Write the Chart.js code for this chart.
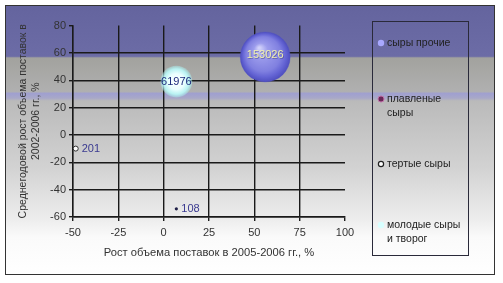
<!DOCTYPE html>
<html><head><meta charset="utf-8">
<script src="https://cdn.jsdelivr.net/npm/chart.js@4.4.0/dist/chart.umd.min.js"></script>
<style>html,body{margin:0;padding:0;background:#fff;}#wrap{width:503px;height:283px;position:relative;}</style>
</head><body><div id="wrap"><canvas id="c" width="503" height="283"></canvas></div>
<script>
// ---- data ----
const seriesNames = ["сыры прочие", "плавленые сыры", "тертые сыры", "молодые сыры и творог"];
const legendLines = [["сыры прочие"], ["плавленые", "сыры"], ["тертые сыры"], ["молодые сыры", "и творог"]];
const growth0506 = [56, 7, -48.5, 7];      // x, %
const growth0206 = [57, -54, -10, 39];     // y, %
const volumes = [153026, 108, 201, 61976]; // bubble size
const xTickValues = [-50, -25, 0, 25, 50, 75, 100];
const yTickValues = [-60, -40, -20, 0, 20, 40, 60, 80];
const xTitle = "Рост объема поставок в 2005-2006 гг., %";
const yTitle = ["Среднегодовой рост объема поставок в", "2002-2006 гг., %"];

const FONT = "'Liberation Sans', Arial, sans-serif";
const maxVol = Math.max(...volumes);
function radiusFor(v){ return Math.max(1.6, 25*Math.sqrt(v/maxVol)); }

function bubbleFill(i, fallback){
  return function(ctx){
    const chart = ctx.chart;
    const xs = chart.scales.x, ys = chart.scales.y;
    if (!xs || !ys) return fallback;
    const cx = xs.getPixelForValue(growth0506[i]);
    const cy = ys.getPixelForValue(growth0206[i]);
    const r = radiusFor(volumes[i]);
    if (!isFinite(cx) || !isFinite(cy)) return fallback;
    const c = chart.ctx;
    if (i === 0){
      const g = c.createRadialGradient(cx-6, cy-9, 1, cx, cy, r);
      g.addColorStop(0, '#d0d0fa');
      g.addColorStop(0.25, '#9c9cec');
      g.addColorStop(0.68, '#8080e0');
      g.addColorStop(0.85, '#6464d4');
      g.addColorStop(1, '#4e4ebe');
      return g;
    }
    const g = c.createRadialGradient(cx, cy, 0, cx, cy, r);
    g.addColorStop(0, '#ffffff');
    g.addColorStop(0.5, '#eaffff');
    g.addColorStop(0.8, '#b8f2f2');
    g.addColorStop(1, 'rgba(170,235,235,0.4)');
    return g;
  };
}

const styles = [
  {bg: bubbleFill(0, '#8484e6'), border: 'rgba(80,80,200,0.6)', bw: 0.5},
  {bg: '#202048', border: '#202048', bw: 0},
  {bg: 'rgba(255,255,255,0.9)', border: '#333', bw: 1},
  {bg: bubbleFill(3, '#d0f8f8'), border: 'rgba(170,235,235,0)', bw: 0}
];

const datasets = seriesNames.map((name, i) => ({
  label: name,
  data: [{x: growth0506[i], y: growth0206[i], r: i === 2 ? 2.5 : radiusFor(volumes[i])}],
  backgroundColor: styles[i].bg,
  borderColor: styles[i].border,
  borderWidth: styles[i].bw,
  hoverRadius: 0
}));

const bgPlugin = {
  id: 'bg',
  beforeDraw(chart){
    const c = chart.ctx;
    c.save();
    c.fillStyle = '#fff';
    c.fillRect(0,0,chart.width,chart.height);
    const top = 5, bot = 275;
    const g = c.createLinearGradient(0, top, 0, bot);
    g.addColorStop(0, '#64649e');
    g.addColorStop(0.19, '#6c6ca6');
    g.addColorStop(0.196, '#a2a29e');
    g.addColorStop(0.32, '#b0b0b0');
    g.addColorStop(0.328, '#a0a0d0');
    g.addColorStop(0.345, '#a8a8c8');
    g.addColorStop(0.355, '#bababa');
    g.addColorStop(0.6, '#d2d2d2');
    g.addColorStop(0.8, '#eeeeee');
    g.addColorStop(0.86, '#fafafa');
    g.addColorStop(1, '#ffffff');
    c.fillStyle = g;
    c.fillRect(5, top, 490, bot-top);
    c.strokeStyle = '#333';
    c.lineWidth = 1;
    c.strokeRect(5.5, 5.5, 489, 269);
    c.restore();
  }
};

const labelPlugin = {
  id: 'labels',
  afterDatasetsDraw(chart){
    const c = chart.ctx;
    c.save();
    chart.data.datasets.forEach((ds, i) => {
      const el = chart.getDatasetMeta(i).data[0];
      if (!el) return;
      const txt = String(volumes[i]);
      c.font = '11px ' + FONT;
      c.textBaseline = 'middle';
      if (i === 0){
        c.textAlign = 'center';
        c.fillStyle = 'rgba(60,60,120,0.5)';
        c.fillText(txt, el.x+0.7, el.y-1.3);
        c.fillStyle = '#f0f0a8';
        c.fillText(txt, el.x, el.y-2);
      } else if (i === 3){
        c.textAlign = 'center';
        c.fillStyle = '#1c2c7c';
        c.fillText(txt, el.x, el.y);
      } else {
        c.textAlign = 'left';
        c.fillStyle = '#3a3a90';
        c.fillText(txt, el.x + (i === 2 ? 6 : 5), el.y);
      }
    });
    c.restore();
  }
};

const legendPlugin = {
  id: 'customLegend',
  afterDraw(chart){
    const c = chart.ctx;
    c.save();
    c.strokeStyle = '#2a2a3a';
    c.lineWidth = 1;
    c.strokeRect(372.5, 21.5, 96, 234);
    const ys = [43, 99, 164, 225];
    c.font = '10.5px ' + FONT;
    c.textBaseline = 'middle';
    c.textAlign = 'left';
    legendLines.forEach((lines, i) => {
      const y = ys[i];
      if (i === 0){
        c.fillStyle = '#a8a8ff';
        c.beginPath(); c.arc(381, y, 3.2, 0, Math.PI*2); c.fill();
      } else if (i === 1){
        c.fillStyle = '#6a2858';
        c.strokeStyle = '#c070a8';
        c.lineWidth = 1;
        c.beginPath(); c.arc(381, y, 3, 0, Math.PI*2); c.fill(); c.stroke();
      } else if (i === 2){
        c.fillStyle = '#fff';
        c.strokeStyle = '#222';
        c.lineWidth = 1.2;
        c.beginPath(); c.arc(381, y, 2.6, 0, Math.PI*2); c.fill(); c.stroke();
      } else {
        c.fillStyle = '#d8ffff';
        c.beginPath(); c.arc(381, y, 3.2, 0, Math.PI*2); c.fill();
      }
      c.fillStyle = '#222';
      lines.forEach((ln, k) => c.fillText(ln, 387, y + k*14));
    });
    c.restore();
  }
};

new Chart(document.getElementById('c'), {
  type: 'bubble',
  data: { datasets },
  plugins: [bgPlugin, labelPlugin, legendPlugin],
  options: {
    responsive: false,
    animation: false,
    events: [],
    layout: { padding: { left: 10, top: 24, right: 158, bottom: 20 } },
    plugins: { legend: { display: false }, tooltip: { enabled: false } },
    scales: {
      x: {
        type: 'linear',
        min: xTickValues[0], max: xTickValues[xTickValues.length-1],
        afterBuildTicks(s){ s.ticks = xTickValues.map(v => ({value: v})); },
        afterFit(s){ s.height = 46; },
        grid: {
          color: ctx => (ctx.tick && ctx.tick.value === 100) ? 'rgba(0,0,0,0)' : '#1a1a1a',
          lineWidth: 1.4, tickColor: '#1a1a1a', tickLength: 4, drawTicks: true
        },
        border: { display: true, color: '#1a1a1a', width: 1.4 },
        ticks: { font: { family: FONT, size: 11 }, color: '#333', padding: 5, maxRotation: 0, autoSkip: false },
        title: { display: true, text: xTitle, font: { family: FONT, size: 11.2 }, color: '#333', padding: { top: 0, bottom: 3 } }
      },
      y: {
        type: 'linear',
        min: yTickValues[0], max: yTickValues[yTickValues.length-1],
        afterBuildTicks(s){ s.ticks = yTickValues.map(v => ({value: v})); },
        afterFit(s){ s.width = 63; },
        grid: {
          color: ctx => (ctx.tick && ctx.tick.value === 80) ? 'rgba(0,0,0,0)' : '#1a1a1a',
          lineWidth: 1.4, tickColor: '#1a1a1a', tickLength: 4, drawTicks: true
        },
        border: { display: true, color: '#1a1a1a', width: 1.4 },
        ticks: { font: { family: FONT, size: 11 }, color: '#333', padding: 3, autoSkip: false },
        title: { display: true, text: yTitle, font: { family: FONT, size: 10.5 }, color: '#333', padding: { top: 7, bottom: 0 } }
      }
    }
  }
});
</script></body></html>
